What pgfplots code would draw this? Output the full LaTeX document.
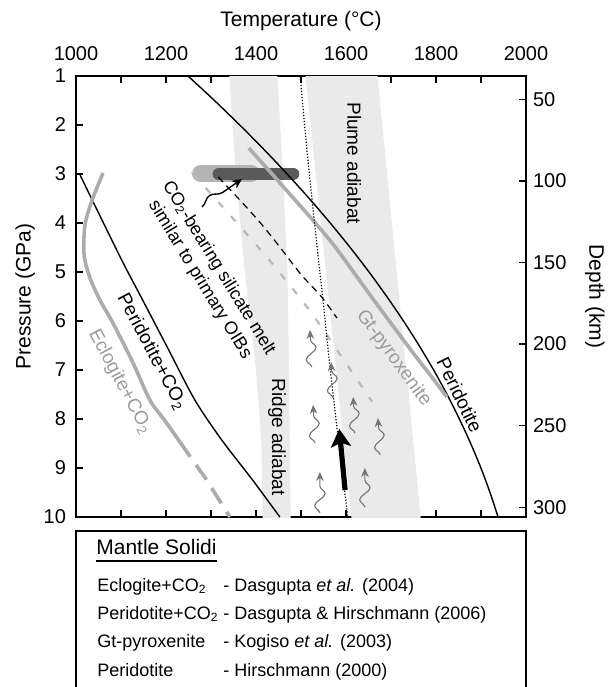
\documentclass[border=0pt]{standalone}
\usepackage{fontspec}
\setmainfont{Liberation Sans}
\usepackage{pgfplots}
\pgfplotsset{compat=1.18}
\usetikzlibrary{arrows.meta,decorations.pathmorphing}

\definecolor{solgray}{RGB}{172,172,172}
\definecolor{labgray}{RGB}{155,155,155}
\definecolor{bandgray}{RGB}{234,234,234}
\definecolor{blobdark}{RGB}{90,90,90}
\definecolor{bloblight}{RGB}{180,180,180}
\definecolor{wavegray}{RGB}{115,115,115}
\definecolor{dashgray}{RGB}{185,185,185}

\begin{document}
\begin{tikzpicture}
\useasboundingbox (0,0) rectangle (303.5pt,-343.5pt);

% Pressure-temperature frame
\begin{axis}[
  at={(38pt,-38pt)}, anchor=north west,
  scale only axis, width=225pt, height=220.5pt,
  xmin=1000, xmax=2000, ymin=1, ymax=10, y dir=reverse,
  xtick={1000,1100,...,2000},
  xticklabels={1000,,1200,,1400,,1600,,1800,,2000},
  ytick={1,...,10},
  xticklabel pos=upper, xtick pos=both, ytick pos=left,
  tick align=inside, major tick length=3.5pt,
  axis line style={line width=0.7pt},
  every tick/.style={line width=0.7pt, black},
  /pgf/number format/assume math mode=true,
  ticklabel style={font=\fontsize{10}{12}\selectfont},
  xticklabel style={yshift=4pt},
  yticklabel style={xshift=-1.5pt},
  label style={font=\fontsize{10.5}{12}\selectfont},
  xlabel={Temperature (°C)},
  ylabel={Pressure (GPa)},
  xlabel style={at={(axis description cs:0.5,1.124)}, anchor=center},
  ylabel style={at={(axis description cs:-0.113,0.5)}, anchor=center},
]

% adiabat bands
\addplot[fill=bandgray, draw=none] coordinates {
  (1340,0.9) (1355,3) (1375,5) (1400,7) (1412,8.5) (1415,10.1)
  (1477,10.1) (1474,7.5) (1470,5) (1460,3) (1447,0.9)} -- cycle;
\addplot[fill=bandgray, draw=none] coordinates {
  (1509,0.9) (1613,10.1) (1767,10.1) (1669,0.9)} -- cycle;

% melt field at 3 GPa
\addplot[bloblight, line width=8.5pt, line cap=round] coordinates {(1277,2.99) (1390,2.99)};
\addplot[blobdark, line width=6pt, line cap=round] coordinates {(1317,3.0) (1483,3.0)};

% Peridotite (Hirschmann 2000)
\addplot[black, line width=0.7pt, smooth] coordinates {
  (1249,1) (1307.6,1.5) (1363.9,2) (1417.8,2.5) (1469.2,3) (1518.3,3.5)
  (1565,4) (1609.3,4.5) (1651.2,5) (1690.6,5.5) (1727.7,6) (1762.4,6.5)
  (1794.7,7) (1824.6,7.5) (1852,8) (1877.1,8.5) (1899.8,9) (1920,9.5) (1938,10)};

% Gt-pyroxenite (Kogiso et al. 2003)
\addplot[solgray, line width=1.8pt, smooth] coordinates {
  (1384,2.47) (1453,3.18) (1564,4.35) (1656,5.5) (1749,6.65) (1787,7.1) (1824,7.55)};

% Peridotite+CO2 (Dasgupta & Hirschmann 2006)
\addplot[black, line width=0.7pt, smooth] coordinates {
  (1009,3.02) (1098,4.69) (1148,5.57) (1206,6.59) (1264,7.61) (1324,8.43)
  (1392,9.24) (1453,10)};

% Eclogite+CO2 (Dasgupta et al. 2004)
\addplot[solgray, line width=1.8pt, smooth] coordinates {
  (1060,2.98) (1036,3.53) (1020,4.04) (1018,4.65) (1031,5.12) (1053,5.57)
  (1082,6.04) (1127,6.86) (1164,7.61) (1198,8.04) (1231,8.47)};
\addplot[solgray, line width=1.8pt, dash pattern=on 9pt off 5pt] coordinates {
  (1231,8.47) (1287,9.2) (1342,10)};

% melting paths
\addplot[black, line width=0.6pt, dash pattern=on 3.5pt off 2.5pt, smooth] coordinates {
  (1316,3.06) (1364,3.53) (1410,4.0) (1453,4.49) (1500,5.05) (1545,5.5) (1580,5.94)};
\addplot[dashgray, line width=1.1pt, dash pattern=on 3.5pt off 6pt, smooth] coordinates {
  (1262,3.05) (1276,3.16) (1416,4.61) (1513,5.71) (1580,6.59) (1658,7.65)};

% plume adiabat centre line
\addplot[black, line width=0.6pt, dash pattern=on 0.6pt off 0.9pt] coordinates {
  (1498,1) (1513,2.5) (1530,4) (1548,5.5) (1565,7) (1584,8.5) (1604,10)};

% upwelling arrows
\addplot[black, line width=2.6pt, -{Stealth[length=9pt, width=10pt, inset=2pt]}]
  coordinates {(1598,9.45) (1585,8.2)};
\pgfplotsset{wave/.style={wavegray, line width=0.55pt, decorate,
  decoration={snake, amplitude=2.6pt, segment length=12pt, post length=3pt},
  -{Stealth[length=4.5pt, width=3.8pt]}}}
\addplot[wave] coordinates {(1531,8.49) (1527,7.71)};
\addplot[wave] coordinates {(1542,9.92) (1542,9.08)};
\addplot[wave] coordinates {(1620,8.29) (1616,7.55)};
\addplot[wave] coordinates {(1676,8.73) (1671,7.98)};
\addplot[wave] coordinates {(1642,9.80) (1642,9.00)};
\addplot[wave] coordinates {(1524,6.94) (1520,6.18)};
\addplot[wave] coordinates {(1571,7.57) (1567,6.84)};
\addplot[black, line width=0.7pt, decorate,
  decoration={snake, amplitude=2.5pt, segment length=20pt, post length=3pt},
  -{Stealth[length=5pt, width=4.5pt]}] coordinates {(1280,3.67) (1369,3.10)};

% curve labels
\node[rotate=-64, font=\fontsize{9.5}{11}\selectfont] at (axis cs:1853,7.51) {Peridotite};
\node[rotate=-54, text=labgray, font=\fontsize{9.5}{11}\selectfont] at (axis cs:1706,6.76) {Gt-pyroxenite};
\node[rotate=-62, font=\fontsize{9.5}{11}\selectfont] at (axis cs:1169,6.63) {Peridotite+CO\textsubscript{2}};
\node[rotate=-62, text=labgray, font=\fontsize{9.5}{11}\selectfont] at (axis cs:1098,7.24) {Eclogite+CO\textsubscript{2}};
\node[rotate=-90, font=\fontsize{9.5}{11}\selectfont] at (axis cs:1618,2.78) {Plume adiabat};
\node[rotate=-90, font=\fontsize{9.5}{11}\selectfont] at (axis cs:1447,8.37) {Ridge adiabat};
\node[rotate=-58.5, align=center, font=\fontsize{9}{11}\selectfont] at (axis cs:1296,5.04)
  {CO\textsubscript{2}-bearing silicate melt\\similar to primary OIBs};
\end{axis}

% depth scale
\begin{axis}[
  at={(38pt,-38pt)}, anchor=north west,
  scale only axis, width=225pt, height=220.5pt,
  xmin=1000, xmax=2000, ymin=35.7, ymax=306, y dir=reverse,
  axis x line=none, axis y line*=right,
  ytick={50,100,...,300},
  tick align=inside, major tick length=3.5pt,
  axis line style={line width=0.7pt},
  every tick/.style={line width=0.7pt, black},
  /pgf/number format/assume math mode=true,
  ticklabel style={font=\fontsize{10}{12}\selectfont},
  label style={font=\fontsize{10.5}{12}\selectfont},
  ylabel={Depth (km)},
  ylabel style={at={(axis description cs:1.153,0.5)}, anchor=center, rotate=180},
]
\end{axis}

% key to the solidi
\draw[line width=0.7pt] (38pt,-344pt) -- (38pt,-265.5pt) -- (263pt,-265.5pt) -- (263pt,-344pt);
\node[anchor=base west, inner sep=0pt, font=\fontsize{10.5}{12}\selectfont] at (48pt,-277pt) {Mantle Solidi};
\draw[line width=0.8pt] (48pt,-280.5pt) -- (108.5pt,-280.5pt);
\begin{scope}[every node/.style={anchor=base west, inner sep=0pt, font=\fontsize{9}{11}\selectfont}]
\node at (48.5pt,-295.5pt) {Eclogite+CO\textsubscript{2}};
\node at (111.5pt,-295.5pt) {- Dasgupta \textit{et al.} (2004)};
\node at (48.5pt,-309.75pt) {Peridotite+CO\textsubscript{2}};
\node at (111.5pt,-309.75pt) {- Dasgupta \& Hirschmann (2006)};
\node at (48.5pt,-323.75pt) {Gt-pyroxenite};
\node at (111.5pt,-323.75pt) {- Kogiso \textit{et al.} (2003)};
\node at (48.5pt,-338pt) {Peridotite};
\node at (111.5pt,-338pt) {- Hirschmann (2000)};
\end{scope}
\end{tikzpicture}
\end{document}
